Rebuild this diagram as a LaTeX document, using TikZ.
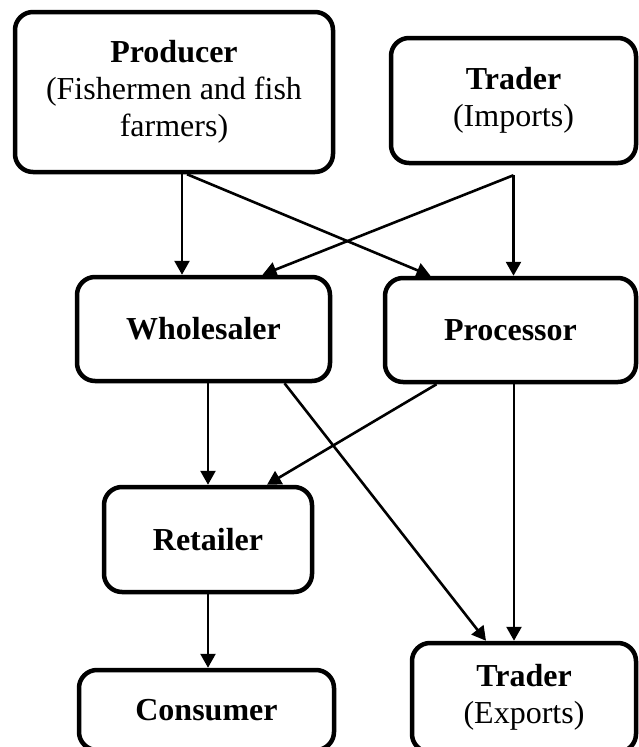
\documentclass[tikz,border=0pt]{standalone}
\usepackage{fontspec}
\setmainfont{Liberation Serif}
\usetikzlibrary{arrows.meta}

\begin{document}
\begin{tikzpicture}[x=1pt, y=-1pt, line join=round]
	% Stili per i blocchi e le frecce
	\tikzset{blocco/.style={draw, line width=4.5pt, rounded corners=18pt, align=center, inner sep=0pt,
			font=\fontsize{32}{37}\selectfont},
		freccia/.style={line width=2.6pt, -{Triangle[length=14pt, width=15pt]}}}
	\useasboundingbox (0,0) rectangle (638,747);
	
	% Riga superiore
	\node[blocco, minimum width=318pt, minimum height=160pt] (Prod) at (174,92)
		{\textbf{Producer}\\(Fishermen and fish\\farmers)};
	\node[blocco, minimum width=245pt, minimum height=125pt] (Imp) at (513.5,100.5)
		{\textbf{Trader}\\(Imports)};
	
	% Riga centrale
	\node[blocco, minimum width=253pt, minimum height=104pt] (Whole) at (203.5,329) {\textbf{Wholesaler}};
	\node[blocco, minimum width=251pt, minimum height=104pt] (Proc) at (510.5,330) {\textbf{Processor}};
	\node[blocco, minimum width=208pt, minimum height=105pt] (Ret) at (208,539.5) {\textbf{Retailer}};
	
	% Riga inferiore (tagliata dal bordo)
	\node[blocco, minimum width=255pt, minimum height=80pt] (Cons) at (206.5,710) {\textbf{Consumer}};
	\node[blocco, minimum width=224pt, minimum height=109pt] (Exp) at (524,697.5)
		{\textbf{Trader}\\(Exports)};
	
	% Punto di partenza delle frecce dell'importatore
	\coordinate (ImpOut) at ([yshift=-10pt]Imp.south);
	
	% Frecce dalla riga superiore
	\draw[freccia] ([xshift=8pt]Prod.south) -- ([xshift=8pt]Prod.south |- Whole.north);
	\draw[freccia] ([xshift=13pt]Prod.south) -- ([xshift=-80pt]Proc.north);
	\draw[freccia] (ImpOut) -- (ImpOut |- Proc.north);
	\draw[freccia] (ImpOut) -- ([xshift=59pt]Whole.north);
	
	% Frecce dalla riga centrale
	\draw[freccia] (Ret.north |- Whole.south) -- (Ret.north);
	\draw[freccia] ([xshift=81pt]Whole.south) -- ([xshift=-38pt]Exp.north);
	\draw[freccia] ([xshift=-74pt]Proc.south) -- ([xshift=59pt]Ret.north);
	\draw[freccia] ([xshift=3.5pt]Proc.south) -- ([xshift=3.5pt]Proc.south |- Exp.north);
	\draw[freccia] (Ret.south) -- (Ret.south |- Cons.north);
	
\end{tikzpicture}
\end{document}
